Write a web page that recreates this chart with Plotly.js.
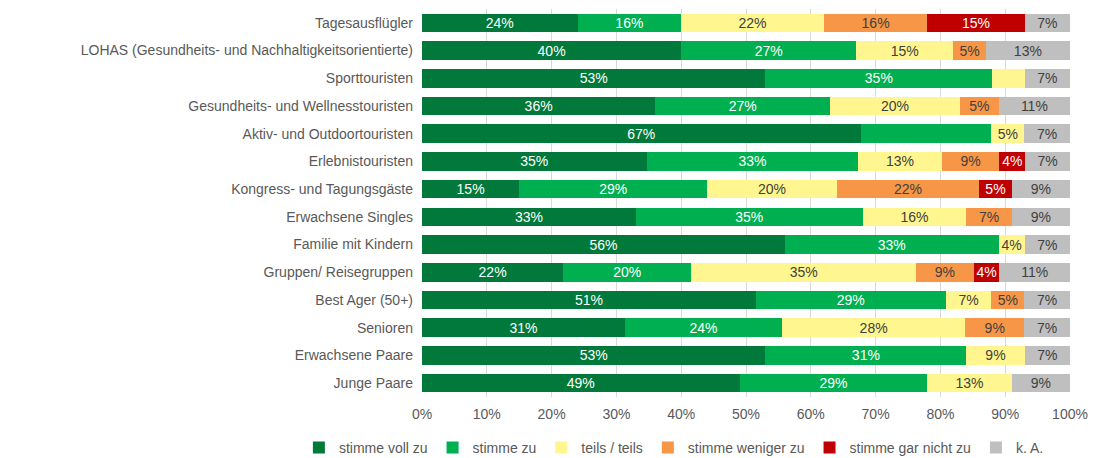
<!DOCTYPE html>
<html>
<head>
<meta charset="utf-8">
<script src="https://cdn.plot.ly/plotly-3.0.1.min.js"></script>
<style>html,body{margin:0;padding:0;background:#fff;}#chart{width:1093px;height:458px;}</style>
</head>
<body>
<div id="chart"></div>
<script>
const categories = [
  "Tagesausflügler",
  "LOHAS (Gesundheits- und Nachhaltigkeitsorientierte)",
  "Sporttouristen",
  "Gesundheits- und Wellnesstouristen",
  "Aktiv- und Outdoortouristen",
  "Erlebnistouristen",
  "Kongress- und Tagungsgäste",
  "Erwachsene Singles",
  "Familie mit Kindern",
  "Gruppen/ Reisegruppen",
  "Best Ager (50+)",
  "Senioren",
  "Erwachsene Paare",
  "Junge Paare"
];
const seriesNames = ["stimme voll zu", "stimme zu", "teils / teils", "stimme weniger zu", "stimme gar nicht zu", "k. A."];
const stimmeVollZu      = [24, 40, 53, 36, 67, 35, 15, 33, 56, 22, 51, 31, 53, 49];
const stimmeZu          = [16, 27, 35, 27, 20, 33, 29, 35, 33, 20, 29, 24, 31, 29];
const teilsTeils        = [22, 15, 5, 20, 5, 13, 20, 16, 4, 35, 7, 28, 9, 13];
const stimmeWenigerZu   = [16, 5, 0, 6, 0, 9, 22, 7, 0, 9, 5, 9, 0, 0];
const stimmeGarNichtZu  = [15, 0, 0, 0, 0, 4, 5, 0, 0, 4, 0, 0, 0, 0];
const keineAngabe       = [7, 13, 7, 11, 7, 7, 9, 9, 7, 11, 7, 7, 7, 9];
// labels printed on the segments (blank where the original shows none)
const labelVollZu      = ["24%","40%","53%","36%","67%","35%","15%","33%","56%","22%","51%","31%","53%","49%"];
const labelZu          = ["16%","27%","35%","27%","","33%","29%","35%","33%","20%","29%","24%","31%","29%"];
const labelTeils       = ["22%","15%","","20%","5%","13%","20%","16%","4%","35%","7%","28%","9%","13%"];
const labelWeniger     = ["16%","5%","","5%","","9%","22%","7%","","9%","5%","9%","",""];
const labelGarNicht    = ["15%","","","","","4%","5%","","","4%","","","",""];
const labelKA          = ["7%","13%","7%","11%","7%","7%","9%","9%","7%","11%","7%","7%","7%","9%"];

const FONT = "Liberation Sans, Arial, sans-serif";
const colors = ["#00793A", "#00B050", "#FFF68F", "#F79646", "#C00000", "#BFBFBF"];
const textColors = ["#FFFFFF", "#FFFFFF", "#404040", "#404040", "#FFFFFF", "#404040"];
const values = [stimmeVollZu, stimmeZu, teilsTeils, stimmeWenigerZu, stimmeGarNichtZu, keineAngabe];
const labels = [labelVollZu, labelZu, labelTeils, labelWeniger, labelGarNicht, labelKA];

const traces = seriesNames.map((name, i) => ({
  type: "bar",
  orientation: "h",
  name: name,
  y: categories,
  x: values[i],
  text: labels[i],
  texttemplate: "%{text}",
  textposition: "inside",
  insidetextanchor: "middle",
  textangle: 0,
  constraintext: "none",
  textfont: {family: FONT, size: 14, color: textColors[i]},
  marker: {color: colors[i], line: {width: 0}},
  hoverinfo: "name+x"
}));

const layout = {
  width: 1093,
  height: 458,
  barmode: "stack",
  barnorm: "percent",
  bargap: 0.33,
  margin: {l: 422, r: 23, t: 9, b: 61, autoexpand: false},
  paper_bgcolor: "#FFFFFF",
  plot_bgcolor: "#FFFFFF",
  font: {family: FONT, size: 14, color: "#595959"},
  uniformtext: {mode: "show", minsize: 14},
  xaxis: {
    range: [0, 100],
    tickvals: [0, 10, 20, 30, 40, 50, 60, 70, 80, 90, 100],
    ticktext: ["0%", "10%", "20%", "30%", "40%", "50%", "60%", "70%", "80%", "90%", "100%"],
    showgrid: true,
    gridcolor: "#D9D9D9",
    gridwidth: 1,
    zeroline: false,
    showline: false,
    ticks: "",
    ticklabelstandoff: 7,
    tickfont: {family: FONT, size: 14, color: "#595959"},
    fixedrange: true
  },
  yaxis: {
    autorange: "reversed",
    showgrid: false,
    zeroline: false,
    showline: false,
    ticks: "",
    ticklabelstandoff: 8,
    tickfont: {family: FONT, size: 14, color: "#595959"},
    fixedrange: true
  },
  showlegend: true,
  legend: {
    orientation: "h",
    x: -0.19,
    xanchor: "left",
    y: -0.131,
    yanchor: "middle",
    font: {family: FONT, size: 14, color: "#595959"},
    traceorder: "normal",
    itemwidth: 30
  }
};

Plotly.newPlot("chart", traces, layout, {displayModeBar: false, staticPlot: true});
</script>
</body>
</html>
